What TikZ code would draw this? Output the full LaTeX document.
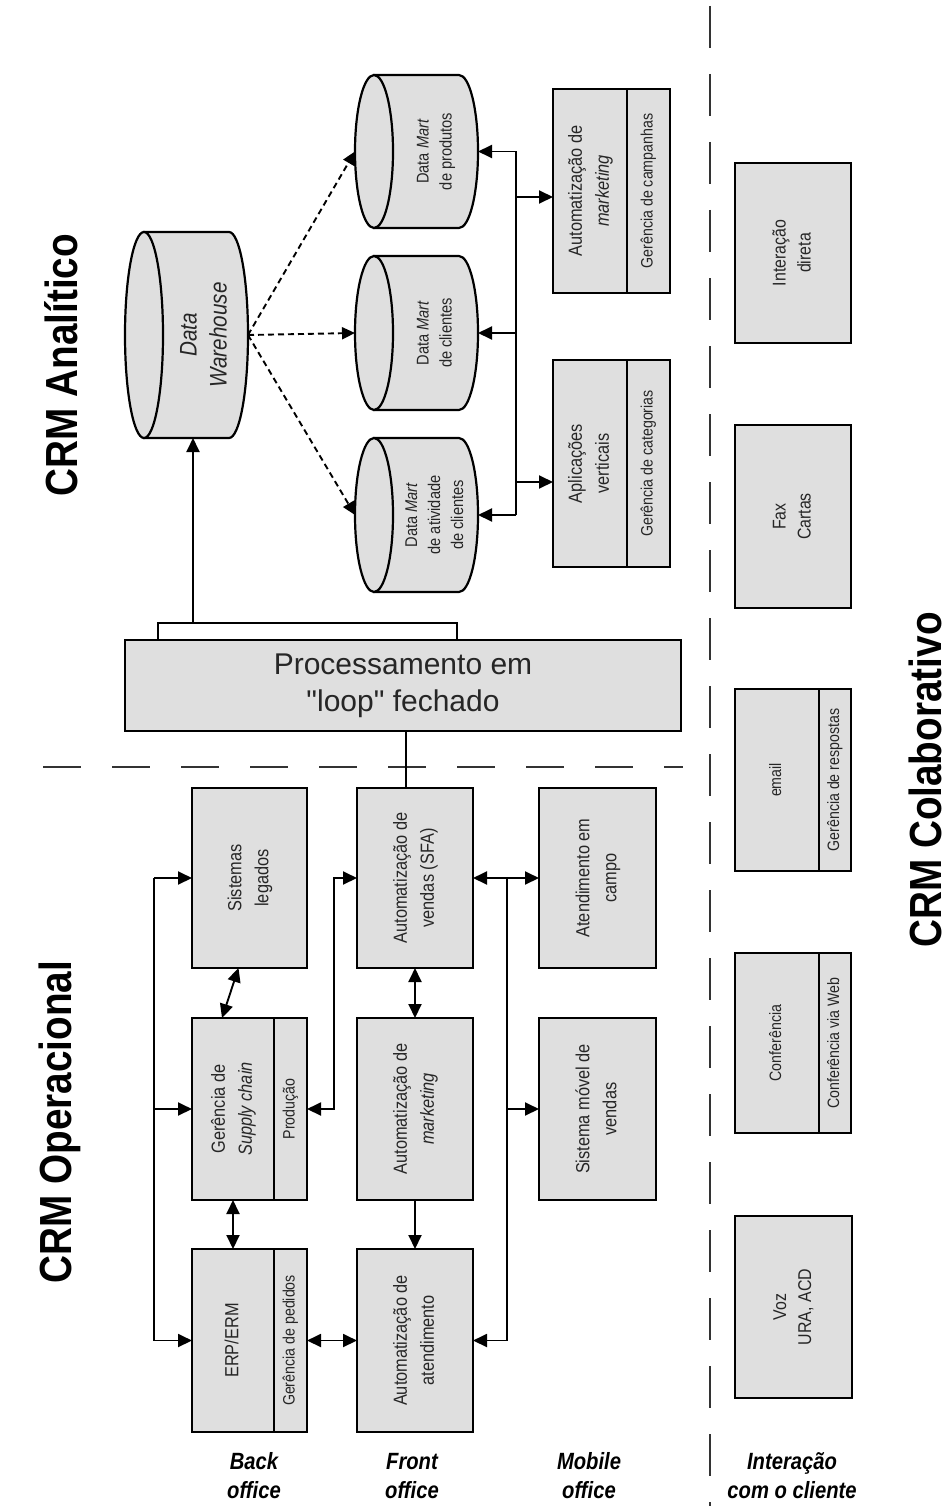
\documentclass[tikz,border=0pt]{standalone}
\usepackage{fontspec}
\setmainfont{Liberation Sans}[FakeStretch=0.86]
\newfontfamily\widefont{Liberation Sans}
\usetikzlibrary{arrows.meta,calc}
\definecolor{boxgray}{gray}{0.875}
\newcommand{\rt}[1]{\rotatebox{90}{\begin{tabular}{@{}c@{}}#1\end{tabular}}}
\tikzset{
  x=1pt, y=-1pt,
  boxbase/.style={draw=black, fill=boxgray, line width=2.4pt, inner sep=0pt, outer sep=0pt, anchor=north west, text=black!85},
  box/.style={boxbase, font=\fontsize{19}{27}\selectfont},
  stripbox/.style={boxbase, font=\fontsize{16.5}{20}\selectfont},
  colbox/.style={boxbase, font=\fontsize{18.5}{25}\selectfont},
  colsmall/.style={boxbase, font=\fontsize{16.5}{20}\selectfont},
  cyl/.style={draw=black, fill=boxgray, line width=2.2pt},
  cyltext/.style={draw=none, fill=none, inner sep=0pt, outer sep=0pt, anchor=north west, text=black!85},
  title/.style={rotate=90, font=\fontsize{45}{54}\selectfont\bfseries},
  lab/.style={align=center, font=\fontsize{23.5}{29}\selectfont\bfseries\itshape},
  conn/.style={line width=1.9pt},
  arr/.style={conn, -{Triangle[length=14pt,width=13pt]}},
  darr/.style={conn, {Triangle[length=14pt,width=13pt]}-{Triangle[length=14pt,width=13pt]}},
  dasharr/.style={conn, dash pattern=on 6pt off 4pt, -{Triangle[length=13pt,width=12pt]}},
  sep/.style={line width=1.8pt, black!80}
}
\begin{document}
\begin{tikzpicture}
\fill[white] (0,0) rectangle (952,1506);
\useasboundingbox (0,0) rectangle (952,1506);

% separators
\draw[sep, dash pattern=on 42pt off 26pt] (710,6) -- (710,1506);
\draw[sep, dash pattern=on 38pt off 31pt] (43,767) -- (683,767);

% titles
\node[title] (tan) at (61,365) {CRM Analítico};
\node[title] (top) at (60,1122) {CRM Operacional};
\node[title] (tco) at (925,780) {CRM Colaborativo};

% ---------- analytical ----------
% Data Warehouse
\path[cyl] (144,232) -- (229,232) arc[start angle=90,end angle=-90,x radius=19pt,y radius=103pt] -- (144,438) -- cycle;
\path[cyl] (144,335) ellipse[x radius=19pt,y radius=103pt];
\node[cyltext, minimum width=123, minimum height=206, font=\fontsize{24}{30}\selectfont\itshape] (dw) at (125,232) {\hspace*{38pt}\rt{Data\\Warehouse}};

% Data marts
\path[cyl] (374,75) -- (459,75) arc[start angle=90,end angle=-90,x radius=19pt,y radius=76.5pt] -- (374,228) -- cycle;
\path[cyl] (374,151.5) ellipse[x radius=19pt,y radius=76.5pt];
\node[cyltext, minimum width=123, minimum height=153, font=\fontsize{17}{23}\selectfont] (dmp) at (355,75) {\hspace*{38pt}\rt{Data \textit{Mart}\\de produtos}};

\path[cyl] (374,256) -- (459,256) arc[start angle=90,end angle=-90,x radius=19pt,y radius=77pt] -- (374,410) -- cycle;
\path[cyl] (374,333) ellipse[x radius=19pt,y radius=77pt];
\node[cyltext, minimum width=123, minimum height=154, font=\fontsize{17}{23}\selectfont] (dmc) at (355,256) {\hspace*{38pt}\rt{Data \textit{Mart}\\de clientes}};

\path[cyl] (374,438) -- (459,438) arc[start angle=90,end angle=-90,x radius=19pt,y radius=77pt] -- (374,592) -- cycle;
\path[cyl] (374,515) ellipse[x radius=19pt,y radius=77pt];
\node[cyltext, minimum width=123, minimum height=154, font=\fontsize{17}{23}\selectfont] (dma) at (355,438) {\hspace*{38pt}\rt{Data \textit{Mart}\\de atividade\\de clientes}};

% analytical application boxes
\node[box, minimum width=74, minimum height=204] (amk) at (553,89) {\rt{Automatização de\\\textit{marketing}}};
\node[stripbox, minimum width=43, minimum height=204] (amkS) at (627,89) {\rt{Gerência de campanhas}};
\node[box, minimum width=74, minimum height=207] (apv) at (553,360) {\rt{Aplicações\\verticais}};
\node[stripbox, minimum width=43, minimum height=207] (apvS) at (627,360) {\rt{Gerência de categorias}};

% closed loop processing
\node[boxbase, fill=white, minimum width=299, minimum height=17] (tab) at (158,623) {};
\node[boxbase, minimum width=556, minimum height=91, align=center, font=\widefont\fontsize{30}{37}\selectfont] (proc) at (125,640) {Processamento em\\"loop" fechado};

% ---------- operational ----------
\node[box, minimum width=115, minimum height=180] (sl) at (192,788) {\rt{Sistemas\\legados}};
\node[box, minimum width=82, minimum height=182] (ger) at (192,1018) {\rt{Gerência de\\\textit{Supply chain}}};
\node[stripbox, minimum width=33, minimum height=182] (gerS) at (274,1018) {\rt{Produção}};
\node[box, minimum width=82, minimum height=183] (erp) at (192,1249) {\rt{ERP/ERM}};
\node[stripbox, minimum width=33, minimum height=183] (erpS) at (274,1249) {\rt{Gerência de pedidos}};

\node[box, minimum width=116, minimum height=180] (sfa) at (357,788) {\rt{Automatização de\\vendas (SFA)}};
\node[box, minimum width=116, minimum height=182] (amkt) at (357,1018) {\rt{Automatização de\\\textit{marketing}}};
\node[box, minimum width=116, minimum height=183] (ate) at (357,1249) {\rt{Automatização de\\atendimento}};

\node[box, minimum width=117, minimum height=180] (atc) at (539,788) {\rt{Atendimento em\\campo}};
\node[box, minimum width=117, minimum height=182] (smv) at (539,1018) {\rt{Sistema móvel de\\vendas}};

% ---------- collaborative ----------
\node[colbox, minimum width=116, minimum height=180] (ind) at (735,163) {\rt{Interação\\direta}};
\node[colbox, minimum width=116, minimum height=183] (fax) at (735,425) {\rt{Fax\\Cartas}};
\node[colsmall, minimum width=84, minimum height=182] (eml) at (735,689) {\rt{email}};
\node[colsmall, minimum width=32, minimum height=182] (emlS) at (819,689) {\rt{Gerência de respostas}};
\node[colsmall, minimum width=84, minimum height=180] (conf) at (735,953) {\rt{Conferência}};
\node[colsmall, minimum width=32, minimum height=180] (confS) at (819,953) {\rt{Conferência via Web}};
\node[colbox, minimum width=117, minimum height=182] (voz) at (735,1216) {\rt{Voz\\URA, ACD}};

% bottom labels
\node[lab] (lbk) at (254,1476) {Back\\office};
\node[lab] (lfr) at (412,1476) {Front\\office};
\node[lab] (lmo) at (589,1476) {Mobile\\office};
\node[lab] (lin) at (792,1476) {Interação\\com o cliente};

% ---------- connectors ----------
\draw[arr] ([xshift=35pt]tab.north west) -- ([xshift=35pt]tab.north west |- dw.south);
\draw[dasharr] (dw.east) -- (dmp.west);
\draw[dasharr] (dw.east) -- (dmc.west);
\draw[dasharr] (dw.east) -- (dma.west);

\coordinate (abx) at (516,0);
\coordinate (ab1) at (516,197);
\coordinate (ab2) at (516,482);
\draw[conn] (abx |- dmp.east) -- (abx |- dma.east);
\draw[arr] (abx |- dmp.east) -- (dmp.east);
\draw[arr] (abx |- dmc.east) -- (dmc.east);
\draw[arr] (abx |- dma.east) -- (dma.east);
\draw[arr] (ab1) -- (ab1 -| amk.west);
\draw[arr] (ab2) -- (ab2 -| apv.west);

\draw[conn] ([xshift=-9pt]sfa.north) -- ([xshift=-9pt]sfa.north |- proc.south);

% back office bus
\coordinate (bbx) at (154,0);
\draw[conn] (sl.west -| bbx) -- (erp.west -| bbx);
\draw[arr] (sl.west -| bbx) -- (sl.west);
\draw[arr] (ger.west -| bbx) -- (ger.west);
\draw[arr] (erp.west -| bbx) -- (erp.west);
\draw[darr] ([xshift=-11pt]sl.south) -- ([xshift=-11pt]ger.north);
\draw[darr] (ger.south) -- (erp.north);
\draw[darr] (erpS.east) -- (ate.west);

% front office
\coordinate (fbx) at (334,0);
\draw[darr] (sfa.west) -- (sfa.west -| fbx) |- (gerS.east);
\draw[darr] (sfa.south) -- (amkt.north);
\draw[arr] (amkt.south) -- (ate.north);

% mobile office bus
\coordinate (mbx) at (507,0);
\draw[darr] (sfa.east) -- (atc.west);
\draw[conn] (sfa.east -| mbx) -- (ate.east -| mbx);
\draw[arr] (smv.west -| mbx) -- (smv.west);
\draw[arr] (ate.east -| mbx) -- (ate.east);
\end{tikzpicture}
\end{document}
